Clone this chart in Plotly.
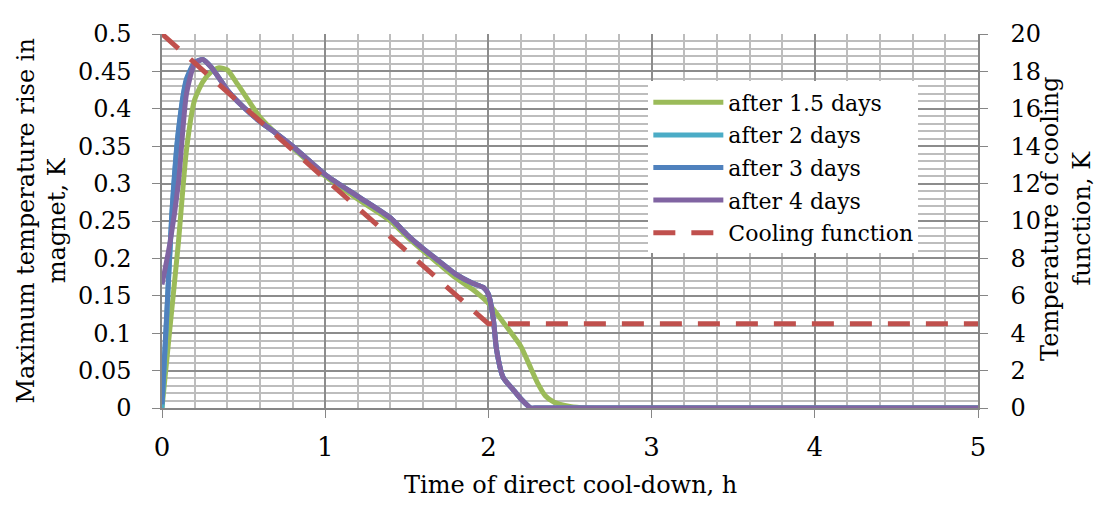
import plotly.graph_objects as go

# ---- data ----
t_green = [0, 0.05, 0.1, 0.15, 0.2, 0.25, 0.3, 0.35, 0.4, 0.45, 0.5, 0.6, 0.7, 0.8, 1.0, 1.2, 1.4, 1.5,
           1.6, 1.7, 1.8, 1.9, 2.0, 2.1, 2.2, 2.25, 2.3, 2.35, 2.4, 2.5, 2.6, 3.0, 4.0, 5.0]
v_green = [0, 0.11, 0.22, 0.345, 0.412, 0.436, 0.449, 0.455, 0.452, 0.437, 0.421, 0.389, 0.367, 0.348,
           0.31, 0.279, 0.25, 0.229, 0.21, 0.192, 0.174, 0.159, 0.14, 0.112, 0.082, 0.058, 0.034, 0.016,
           0.008, 0.002, 0, 0, 0, 0]

t_4d = [0, 0.05, 0.1, 0.15, 0.2, 0.25, 0.3, 0.35, 0.4, 0.5, 0.6, 0.7, 0.8, 1.0, 1.2, 1.4, 1.5, 1.6, 1.7,
        1.8, 1.9, 1.97, 2.0, 2.03, 2.05, 2.09, 2.15, 2.2, 2.26, 2.3, 3.0, 4.0, 5.0]
v_4d = [0.165, 0.222, 0.30, 0.42, 0.46, 0.466, 0.456, 0.441, 0.425, 0.402, 0.383, 0.367, 0.35, 0.312,
        0.283, 0.254, 0.232, 0.213, 0.196, 0.179, 0.167, 0.161, 0.152, 0.119, 0.078, 0.041, 0.025, 0.012,
        0.0, 0, 0, 0, 0]

t_3d = [0, 0.03, 0.06, 0.1, 0.15, 0.2, 0.25, 0.3, 0.35, 0.4, 0.5, 0.6, 0.7, 0.8, 1.0, 1.2, 1.4, 1.5, 1.6,
        1.7, 1.8, 1.9, 1.97, 2.0, 2.03, 2.05, 2.09, 2.15, 2.2, 2.26, 2.3, 3.0, 4.0, 5.0]
v_3d = [0.005, 0.13, 0.26, 0.37, 0.44, 0.462, 0.466, 0.456, 0.441, 0.425, 0.402, 0.383, 0.367, 0.35,
        0.312, 0.283, 0.254, 0.232, 0.213, 0.196, 0.179, 0.167, 0.161, 0.152, 0.119, 0.078, 0.041, 0.025,
        0.012, 0.0, 0, 0, 0, 0]

t_2d = [0, 0.03, 0.06, 0.1, 0.15, 0.2, 0.25, 0.3, 0.35, 0.4, 0.5, 0.6, 0.7, 0.8, 1.0, 1.2, 1.4, 1.5, 1.6,
        1.7, 1.8, 1.9, 1.97, 2.0, 2.03, 2.05, 2.09, 2.15, 2.2, 2.26, 2.3, 3.0, 4.0, 5.0]
v_2d = [0.0, 0.125, 0.255, 0.368, 0.438, 0.461, 0.466, 0.456, 0.441, 0.425, 0.402, 0.383, 0.367, 0.35,
        0.312, 0.283, 0.254, 0.232, 0.213, 0.196, 0.179, 0.167, 0.161, 0.152, 0.119, 0.078, 0.041, 0.025,
        0.012, 0.0, 0, 0, 0, 0]

t_cool = [0, 2, 5]
v_cool = [20, 4.5, 4.5]

FONT = "DejaVu Serif"
GRID_MAJOR = "#8C8C8C"
GRID_MINOR = "#BDBDBD"
AXIS = "#868686"
LW = 5

fig = go.Figure()
common = dict(mode="lines", line_shape="spline")
fig.add_trace(go.Scatter(x=t_green, y=v_green, name="after 1.5 days", legendgroup="a",
                         line=dict(color="#9BBB59", width=LW, smoothing=0.6), **common))
fig.add_trace(go.Scatter(x=t_2d, y=v_2d, name="after 2 days", legendgroup="b",
                         line=dict(color="#4BACC6", width=LW, smoothing=0.6), **common))
fig.add_trace(go.Scatter(x=t_3d, y=v_3d, name="after 3 days", legendgroup="c",
                         line=dict(color="#4F81BD", width=LW, smoothing=0.6), **common))
fig.add_trace(go.Scatter(x=t_4d, y=v_4d, name="after 4 days", legendgroup="d",
                         line=dict(color="#8064A2", width=LW, smoothing=0.6), **common))
fig.add_trace(go.Scatter(x=t_cool, y=v_cool, name="Cooling function", legendgroup="e", yaxis="y2",
                         mode="lines", line=dict(color="#C0504D", width=LW, dash="22px,16px")))

fig.update_layout(
    width=1105, height=506,
    margin=dict(l=154, r=135, t=15, b=106),
    paper_bgcolor="white", plot_bgcolor="white",
    font=dict(family=FONT, size=24, color="black"),
    xaxis=dict(range=[0, 5], dtick=1, tick0=0, showgrid=True, gridcolor=GRID_MAJOR, gridwidth=1.5,
               minor=dict(dtick=0.2, showgrid=True, gridcolor=GRID_MINOR, gridwidth=1.5),
               showline=True, linecolor=AXIS, linewidth=1.5, ticks="outside", ticklen=8,
               tickcolor=AXIS, ticklabelstandoff=7, zeroline=False,
               tickfont=dict(family=FONT, size=26)),
    yaxis=dict(range=[0, 0.5], dtick=0.05, tick0=0, showgrid=True, gridcolor=GRID_MAJOR, gridwidth=1.5,
               minor=dict(dtick=0.01, showgrid=True, gridcolor=GRID_MINOR, gridwidth=1.5),
               showline=True, linecolor=AXIS, linewidth=1.5, ticks="outside", ticklen=8,
               tickcolor=AXIS, ticklabelstandoff=16, zeroline=False,
               tickfont=dict(family=FONT, size=24)),
    yaxis2=dict(range=[0, 20], dtick=2, tick0=0, overlaying="y", side="right", showgrid=False,
                showline=True, linecolor=AXIS, linewidth=1.5, ticks="outside", ticklen=8,
                tickcolor=AXIS, ticklabelstandoff=18, zeroline=False,
                tickfont=dict(family=FONT, size=24)),
    legend=dict(x=0.596, y=0.873, xanchor="left", yanchor="top", bgcolor="white",
                font=dict(family=FONT, size=22), itemwidth=70, tracegroupgap=1,
                traceorder="grouped"),
    showlegend=True,
)

fig.add_annotation(text="Time of direct cool-down, h", xref="paper", yref="paper",
                   x=0.5, y=-0.205, xanchor="center", yanchor="middle", showarrow=False,
                   font=dict(family=FONT, size=24))
fig.add_annotation(text="Maximum temperature rise in<br>magnet, K", xref="paper", yref="paper",
                   x=-0.148, y=0.499, xanchor="center", yanchor="middle", showarrow=False,
                   textangle=-90, font=dict(family=FONT, size=24))
fig.add_annotation(text="Temperature of cooling<br>function, K", xref="paper", yref="paper",
                   x=1.108, y=0.506, xanchor="center", yanchor="middle", showarrow=False,
                   textangle=-90, font=dict(family=FONT, size=24))

fig.write_html("out.html")
